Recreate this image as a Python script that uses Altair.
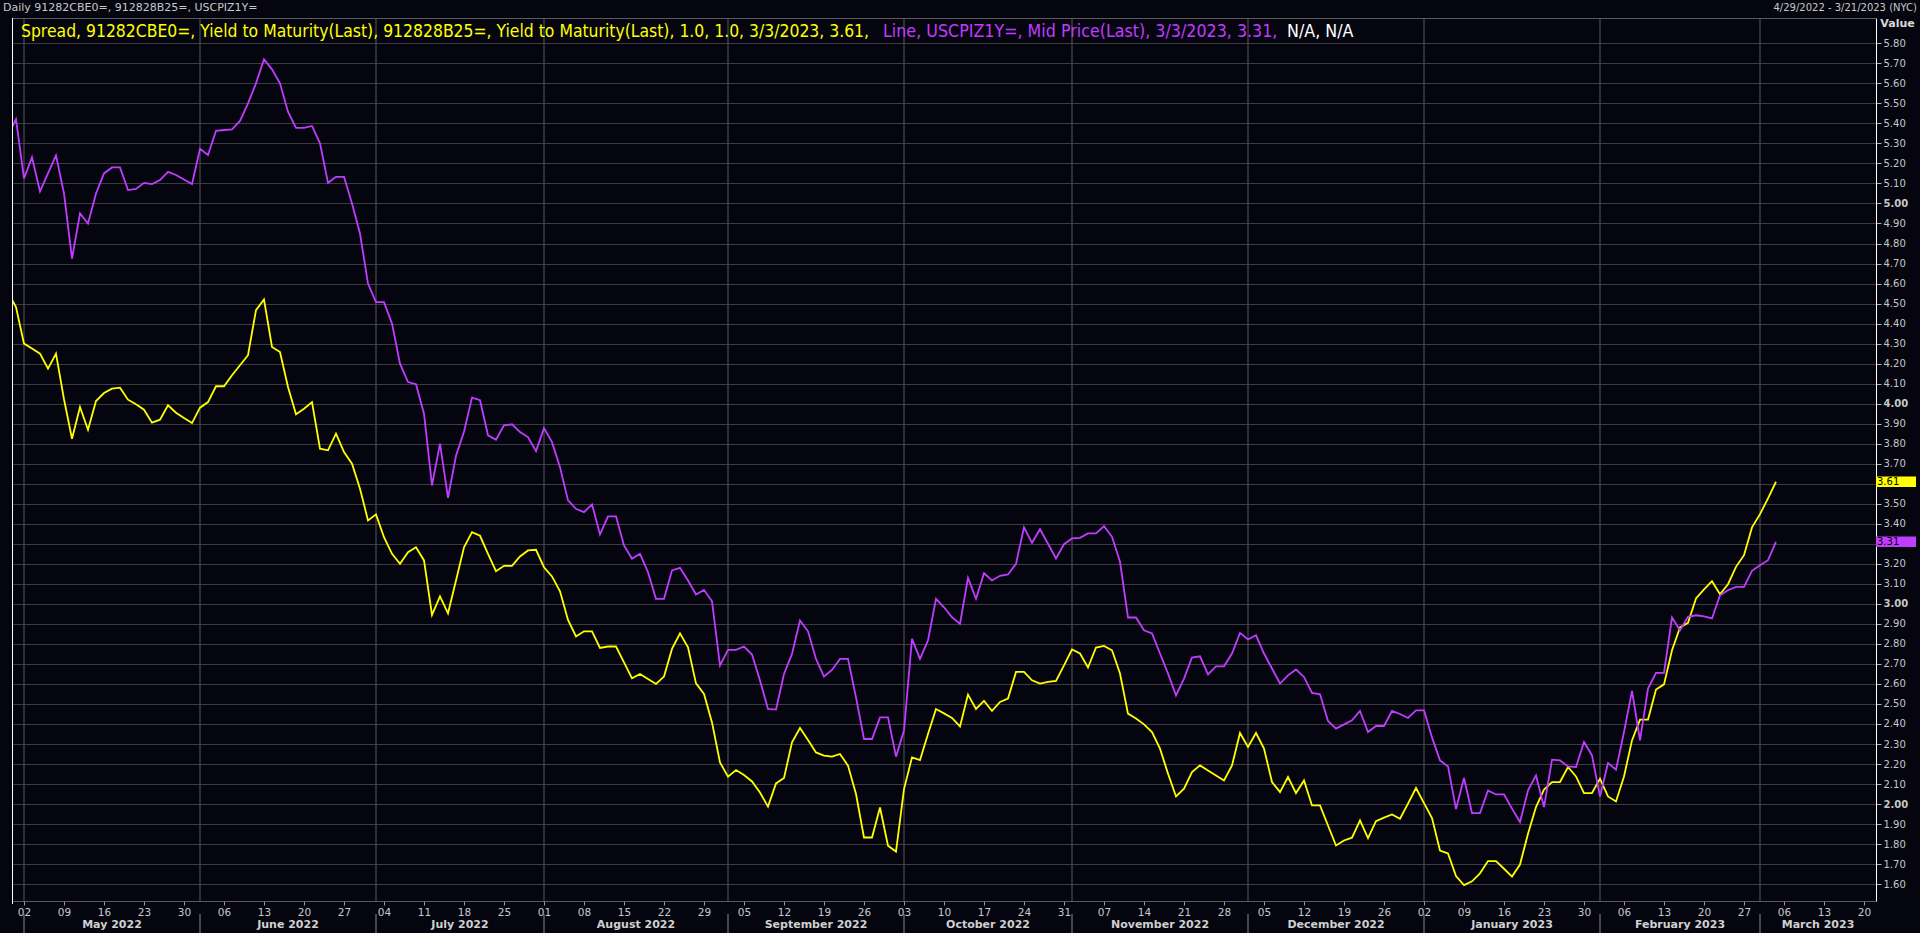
import altair as alt
import pandas as pd
import numpy as np

# ---------------- data ----------------
# business days 2022-04-28 .. 2023-03-03 (first point lies just left of the plot edge)
dates = pd.bdate_range("2022-04-28", "2023-03-03")

spread = [
    4.557, 4.483, 4.30, 4.275, 4.25, 4.175, 4.25, 4.022, 3.825, 3.983,
    3.87, 4.013, 4.053, 4.075, 4.08, 4.02, 3.997, 3.97, 3.905, 3.92,
    3.992, 3.955, 3.928, 3.903, 3.98, 4.008, 4.087, 4.087, 4.142, 4.192,
    4.242, 4.467, 4.52, 4.283, 4.258, 4.083, 3.947, 3.975, 4.008, 3.775,
    3.767, 3.85, 3.758, 3.70, 3.575, 3.417, 3.447, 3.333, 3.25, 3.20,
    3.258, 3.283, 3.217, 2.945, 3.037, 2.953, 3.117, 3.283, 3.358, 3.34,
    3.25, 3.163, 3.19, 3.19, 3.237, 3.267, 3.27, 3.183, 3.137, 3.063,
    2.92, 2.837, 2.863, 2.863, 2.78, 2.787, 2.787, 2.708, 2.628, 2.65,
    2.625, 2.60, 2.637, 2.775, 2.853, 2.783, 2.603, 2.55, 2.408, 2.208,
    2.137, 2.17, 2.145, 2.113, 2.058, 1.987, 2.103, 2.13, 2.308, 2.38,
    2.32, 2.258, 2.242, 2.237, 2.25, 2.192, 2.05, 1.833, 1.833, 1.983,
    1.792, 1.763, 2.075, 2.233, 2.22, 2.35, 2.475, 2.453, 2.43, 2.388,
    2.547, 2.475, 2.515, 2.465, 2.51, 2.527, 2.66, 2.66, 2.618, 2.602,
    2.61, 2.615, 2.693, 2.772, 2.752, 2.682, 2.782, 2.79, 2.768, 2.652,
    2.452, 2.427, 2.398, 2.36, 2.277, 2.152, 2.038, 2.077, 2.16, 2.193,
    2.168, 2.143, 2.118, 2.193, 2.355, 2.285, 2.355, 2.277, 2.11, 2.06,
    2.135, 2.055, 2.118, 1.993, 1.993, 1.893, 1.793, 1.818, 1.832, 1.918,
    1.83, 1.915, 1.932, 1.948, 1.927, 2.002, 2.08, 2.005, 1.93, 1.768,
    1.753, 1.64, 1.595, 1.614, 1.654, 1.715, 1.715, 1.677, 1.638, 1.698,
    1.852, 1.985, 2.072, 2.11, 2.11, 2.185, 2.138, 2.055, 2.055, 2.127,
    2.038, 2.013, 2.138, 2.318, 2.422, 2.422, 2.572, 2.598, 2.768, 2.882,
    2.905, 3.027, 3.072, 3.113, 3.048, 3.098, 3.185, 3.243, 3.382, 3.448,
    3.527, 3.61,
]

cpi_swap = [
    5.34, 5.42, 5.125, 5.23, 5.06, 5.15, 5.24, 5.05, 4.725, 4.95,
    4.90, 5.05, 5.15, 5.18, 5.18, 5.067, 5.073, 5.103, 5.097, 5.117,
    5.158, 5.142, 5.12, 5.097, 5.273, 5.242, 5.363, 5.367, 5.37, 5.412,
    5.50, 5.60, 5.72, 5.67, 5.60, 5.458, 5.378, 5.378, 5.387, 5.30,
    5.103, 5.133, 5.133, 5.00, 4.85, 4.60, 4.507, 4.507, 4.40, 4.20,
    4.108, 4.097, 3.95, 3.592, 3.80, 3.53, 3.74, 3.86, 4.03, 4.017,
    3.842, 3.82, 3.892, 3.897, 3.858, 3.833, 3.763, 3.878, 3.808, 3.683,
    3.517, 3.475, 3.458, 3.497, 3.347, 3.437, 3.437, 3.292, 3.225, 3.25,
    3.158, 3.025, 3.025, 3.167, 3.18, 3.117, 3.047, 3.07, 3.013, 2.692,
    2.77, 2.77, 2.787, 2.747, 2.617, 2.475, 2.472, 2.65, 2.75, 2.917,
    2.863, 2.725, 2.637, 2.67, 2.725, 2.725, 2.533, 2.325, 2.325, 2.433,
    2.433, 2.237, 2.367, 2.825, 2.725, 2.817, 3.025, 2.983, 2.933, 2.90,
    3.13, 3.025, 3.153, 3.117, 3.14, 3.147, 3.20, 3.382, 3.305, 3.373,
    3.30, 3.227, 3.298, 3.327, 3.33, 3.352, 3.352, 3.388, 3.335, 3.21,
    2.932, 2.932, 2.868, 2.852, 2.752, 2.652, 2.543, 2.627, 2.732, 2.738,
    2.648, 2.688, 2.688, 2.752, 2.855, 2.822, 2.843, 2.752, 2.677, 2.602,
    2.643, 2.672, 2.635, 2.555, 2.548, 2.415, 2.377, 2.398, 2.418, 2.465,
    2.36, 2.39, 2.39, 2.465, 2.45, 2.43, 2.468, 2.468, 2.333, 2.218,
    2.188, 1.975, 2.13, 1.955, 1.955, 2.068, 2.048, 2.048, 1.977, 1.91,
    2.068, 2.143, 1.985, 2.222, 2.218, 2.188, 2.185, 2.31, 2.243, 2.038,
    2.205, 2.172, 2.36, 2.565, 2.318, 2.577, 2.655, 2.655, 2.932, 2.868,
    2.935, 2.943, 2.938, 2.927, 3.043, 3.068, 3.085, 3.085, 3.165, 3.193,
    3.218, 3.31,
]

series_names = ["Spread", "USCPIZ1Y="]
series_colors = ["#ffff00", "#c03cff"]
month_names = ["May 2022", "June 2022", "July 2022", "August 2022", "September 2022",
               "October 2022", "November 2022", "December 2022", "January 2023",
               "February 2023", "March 2023"]
y_ticks = [round(1.6 + 0.1 * k, 2) for k in range(43)]

header_left = "Daily 91282CBE0=, 912828B25=, USCPIZ1Y="
header_right = "4/29/2022 - 3/21/2023 (NYC)"
legend_yellow = "Spread, 91282CBE0=, Yield to Maturity(Last), 912828B25=, Yield to Maturity(Last),  1.0, 1.0, 3/3/2023, 3.61,"
legend_purple = "Line, USCPIZ1Y=, Mid Price(Last), 3/3/2023, 3.31,"
legend_white = "N/A, N/A"

# ---------------- derived tables ----------------
origin = np.datetime64("2022-04-29")
axis_end = np.datetime64("2023-03-21")


def bidx(d):
    d = np.datetime64(pd.Timestamp(d).date())
    if d >= origin:
        return int(np.busday_count(origin, d))
    return -int(np.busday_count(d, origin))


idx = [bidx(d) for d in dates]
df = pd.concat([
    pd.DataFrame({"i": idx, "value": spread, "series": series_names[0]}),
    pd.DataFrame({"i": idx, "value": cpi_swap, "series": series_names[1]}),
])
last = pd.DataFrame({"i": [idx[-1], idx[-1]], "value": [spread[-1], cpi_swap[-1]],
                     "series": series_names})
last["lo"] = last["value"] - 0.026
last["hi"] = last["value"] + 0.026

x_lo, x_hi = -0.5, bidx(axis_end) + 0.5
mondays = pd.date_range("2022-05-02", "2023-03-20", freq="W-MON")
tick_idx = [bidx(d) for d in mondays]
tick_lab = [d.strftime("%d") for d in mondays]
label_expr = "[" + ",".join("'%s'" % t for t in tick_lab) + "][round((datum.value-%d)/5)]" % tick_idx[0]

mstarts = pd.bdate_range("2022-05-01", "2023-03-31", freq="BMS")
ms_idx = [bidx(d) for d in mstarts]
bounds = ms_idx + [x_hi]
months = pd.DataFrame({"i": ms_idx, "mid": [(bounds[k] + bounds[k + 1]) / 2 for k in range(len(ms_idx))],
                       "name": month_names})

# last values are shown in boxes, so their axis labels are hidden
hidden = " || ".join("abs(datum.value-%.2f)<0.001" % round(v, 1) for v in [spread[-1], cpi_swap[-1]])
y_label_expr = "(%s) ? '' : format(datum.value, '.2f')" % hidden

W, H = 1864, 883
Y_TOP, Y_BOT = 5.9264, 1.5158
FONT = "DejaVu Sans"

xscale = alt.Scale(domain=[x_lo, x_hi], nice=False, zero=False)
yscale = alt.Scale(domain=[Y_BOT, Y_TOP], nice=False, zero=False)
color_scale = alt.Scale(domain=series_names, range=series_colors)

x_axis = alt.Axis(values=tick_idx, labelExpr=label_expr, grid=False, domainColor="#5a5a5a",
                  tickColor="#9a9a9a", tickSize=4, labelPadding=2, labelColor="#c8c8c8",
                  labelFont=FONT, labelFontSize=10.5, labelFlush=False, title=None,
                  labelOverlap=False)
y_axis = alt.Axis(orient="right", values=y_ticks, labelExpr=y_label_expr, grid=True,
                  gridColor="#3c3c40", tickCount=43,
                  gridWidth=1, domainColor="#ffffff", domainWidth=1, tickColor="#b0b0b0",
                  tickSize=5, labelPadding=2, labelColor="#c8c8c8", labelFont=FONT,
                  labelFontSize=10,
                  labelFontWeight={"condition": {"test": "abs(datum.value - round(datum.value)) < 0.001",
                                                 "value": "bold"}, "value": "normal"},
                  title="Value", titleAngle=0, titleAlign="center", titleBaseline="bottom",
                  titleX=21, titleY=10, titleFont=FONT, titleFontSize=11, titleFontWeight="bold",
                  titleColor="#d8d8d8", labelOverlap=False)

Y = lambda f: alt.Y(f, scale=yscale, axis=y_axis)
X = lambda f: alt.X(f, scale=xscale, axis=x_axis)

base = alt.Chart(df)

vgrid = alt.Chart(months).mark_rule(color="#4a4a4e", strokeWidth=1.2).encode(
    x=X("i:Q"), y=alt.value(0), y2=alt.value(H))

# plot frame (white left edge, grey top edge)
frame = alt.Chart(months.head(1)).mark_rule(color="#ffffff", strokeWidth=1).encode(
    x=alt.value(0.5), y=alt.value(0), y2=alt.value(H + 3))
top_edge = alt.Chart(months.head(1)).mark_rule(color="#5a5a5a", strokeWidth=1).encode(
    x=alt.value(0), x2=alt.value(W), y=alt.value(0.5))

lines = base.mark_line(strokeWidth=1.8, clip=True).encode(
    x=X("i:Q"),
    y=Y("value:Q"),
    color=alt.Color("series:N", scale=color_scale, legend=None),
    detail="series:N",
)

boxes = alt.Chart(last).mark_rect().encode(
    x=alt.value(W), x2=alt.value(W + 40),
    y=Y("lo:Q"), y2="hi:Q",
    color=alt.Color("series:N", scale=color_scale, legend=None),
)
box_text = alt.Chart(last).mark_text(align="left", baseline="middle", font=FONT, fontSize=10,
                                      color="#000000", dx=1).encode(
    x=alt.value(W), y=Y("value:Q"), text=alt.Text("value:Q", format=".2f"))

msep = alt.Chart(months).mark_rule(color="#8a8a8a", strokeWidth=1).encode(
    x=X("i:Q"), y=alt.value(H + 13), y2=alt.value(H + 32))
mlab = alt.Chart(months).mark_text(font=FONT, fontSize=11, fontWeight="bold", color="#d0d0d0",
                                   baseline="middle").encode(
    x=X("mid:Q"), y=alt.value(H + 24), text="name:N")

txt = pd.DataFrame({"t": [header_left, header_right, legend_yellow, legend_purple, legend_white],
                    "k": ["hl", "hr", "ly", "lp", "lw"]})


def label(k, **kw):
    return alt.Chart(txt).transform_filter(alt.datum.k == k).mark_text(**kw).encode(text="t:N")


hl = label("hl", font=FONT, fontSize=11, color="#c8c8c8", align="left", baseline="middle",
           x=-9, y=-10)
hr = label("hr", font=FONT, fontSize=10, color="#c8c8c8", align="right", baseline="middle",
           x=W + 41, y=-10)
LFONT = "DejaVu Sans Condensed, Roboto Condensed, Roboto"
ly = label("ly", font=LFONT, fontSize=17.4, color="#ffff00", align="left", baseline="middle",
           x=9, y=14)
lp = label("lp", font=LFONT, fontSize=17.7, color="#c03cff", align="left", baseline="middle",
           x=871, y=14)
lw = label("lw", font=LFONT, fontSize=17.7, color="#ffffff", align="left", baseline="middle",
           x=1275, y=14)

chart = alt.layer(vgrid, top_edge, lines, boxes, box_text, msep, mlab, frame,
                  hl, hr, ly, lp, lw).properties(
    width=W, height=H,
    padding={"left": 12, "top": 18, "right": 44, "bottom": 32},
    autosize=alt.AutoSizeParams(type="none"),
    background="#05050f",
).configure_view(stroke=None, fill="#05050f").configure_axis(domainWidth=1)

chart.save("out.html", embed_options={"renderer": "svg", "actions": False})
